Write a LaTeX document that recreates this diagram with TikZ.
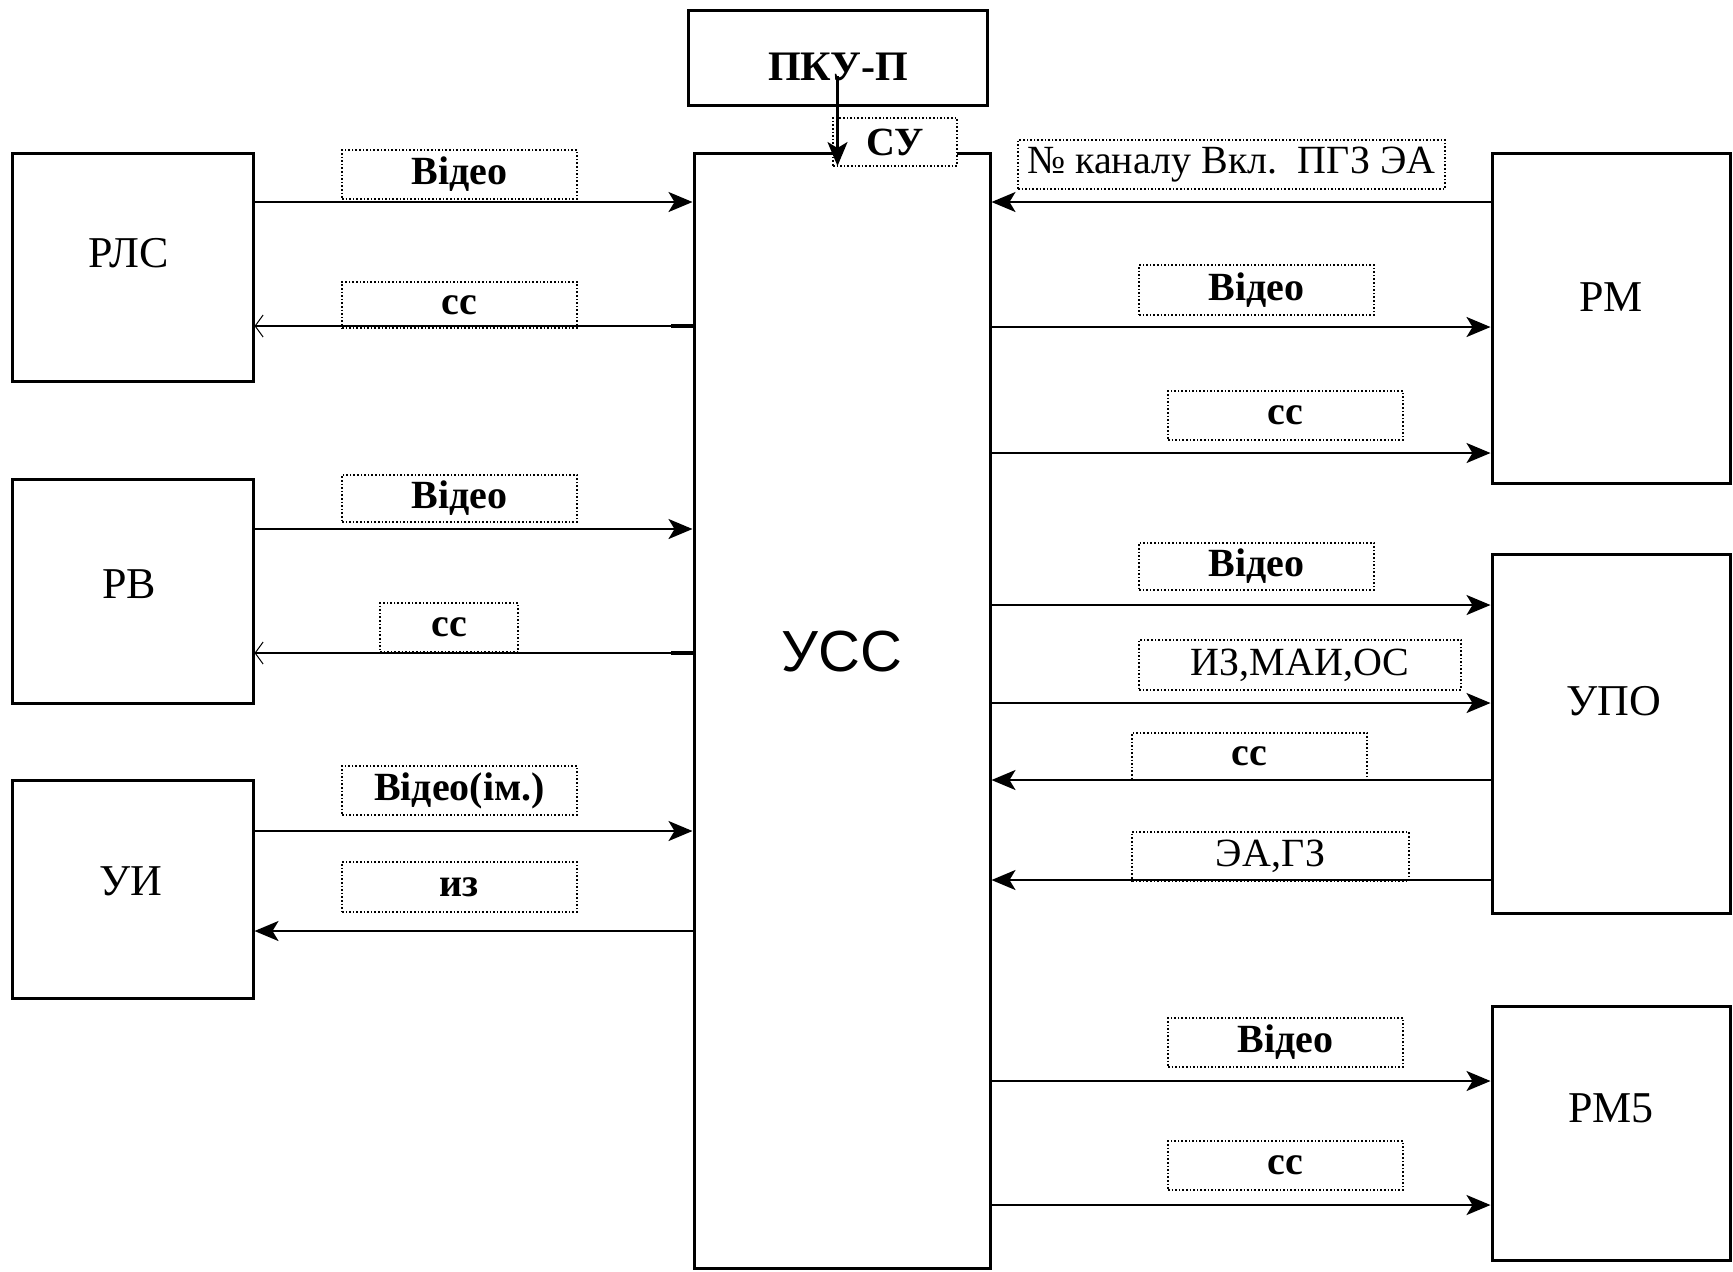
\documentclass[tikz,border=0pt]{standalone}
\usepackage{fontspec}
\setmainfont{Liberation Serif}
\newfontfamily\uscfont{Liberation Sans}
\usetikzlibrary{arrows.meta,fit,calc}
\tikzset{
  base/.style={font=\fontsize{20}{24}\selectfont, align=center, inner sep=0pt, text=black},
  blk/.style={rectangle, draw=black, fill=white, line width=1.5pt, inner sep=0pt},
  blktext/.style={base, font=\fontsize{22}{26}\selectfont},
  tag/.style={rectangle, draw=black, fill=white, densely dotted, line width=0.8pt, inner sep=0pt},
  tagtext/.style={base, solid},
  tagbtext/.style={base, solid, font=\fontsize{20}{24}\selectfont\bfseries},
  arr/.style={-{Stealth[length=12pt,width=10pt,inset=3pt]}, line width=1.1pt, draw=black},
  arro/.style={-{Straight Barb[length=4pt,width=11pt,line width=0.5pt]}, line width=1.1pt, draw=black},
}

\begin{document}
\begin{tikzpicture}[x=0.5pt,y=-0.5pt]
  \path[use as bounding box, fill=white] (0,0) rectangle (1733,1271);

  % blocks
  \foreach \id/\xa/\ya/\xb/\yb in {pku/688/10/987/105, usc/694/153/990/1268,
      rls/12/153/253/381, rv/12/479/253/703, ui/12/780/253/998,
      rm/1492/153/1730/483, upo/1492/554/1730/913, rm5/1492/1006/1730/1260}{
    \node[blk, fit={(\xa,\ya) (\xb,\yb)}] (\id) {};
  }
  \node[blktext, font=\fontsize{21}{25}\selectfont\bfseries] (pku-t) at (838,67) {ПКУ-П};
  \node[base, font=\uscfont\fontsize{29}{34}\selectfont] (usc-t) at (842,652) {УСС};
  \foreach \id/\x/\y/\t in {rls/129/253/РЛС, rv/129/584/РВ, ui/131/881/УИ,
      rm/1611/297/РМ, upo/1614/701/УПО, rm5/1611/1108/РМ5}{
    \node[blktext] (\id-t) at (\x,\y) {\t};
  }

  % signal labels
  \foreach \id/\xa/\ya/\xb/\yb/\t in {l1/342/150/577/199/Відео, l2/342/282/577/328/сс,
      l3/342/475/577/522/Відео, l4/380/603/518/652/сс, l5/342/766/577/815/Відео(ім.),
      l6/342/862/577/912/из, r2/1139/265/1374/315/Відео, r3/1168/391/1403/440/сс,
      r4/1139/543/1374/590/Відео, r6/1132/733/1367/780/сс, r8/1168/1018/1403/1067/Відео,
      r9/1168/1141/1403/1190/сс, su/833/118/957/166/СУ}{
    \node[tag, fit={(\xa,\ya) (\xb,\yb)}, label={[tagbtext]center:\t}] (\id) {};
  }
  \foreach \id/\xa/\ya/\xb/\yb/\t in {r1/1018/140/1445/189/{№ каналу Вкл.\ \ ПГЗ ЭА},
      r5/1139/640/1461/690/{ИЗ,МАИ,ОС}, r7/1132/832/1409/881/{ЭА,ГЗ}}{
    \node[tag, fit={(\xa,\ya) (\xb,\yb)}, label={[tagtext]center:\t}] (\id) {};
  }

  % connectors
  \draw[arr] (pku.center |- 0,76) -- (pku.center |- 0,166);
  \foreach \s/\t/\y in {rls.east/usc.west/202, rv.east/usc.west/529, ui.east/usc.west/831,
      usc.west/ui.east/931, rm.west/usc.east/202, usc.east/rm.west/327, usc.east/rm.west/453,
      usc.east/upo.west/605, usc.east/upo.west/703, upo.west/usc.east/780,
      upo.west/usc.east/880, usc.east/rm5.west/1081, usc.east/rm5.west/1205}{
    \draw[arr] (\s |- 0,\y) -- (\t |- 0,\y);
  }
  \foreach \t/\y in {rls/326, rv/653}{
    \draw[arro] (usc.west |- 0,\y) -- (\t.east |- 0,\y);
    \draw[line width=2.4pt] (usc.west |- 0,\y) -- ++(-22,0);
  }
\end{tikzpicture}
\end{document}
